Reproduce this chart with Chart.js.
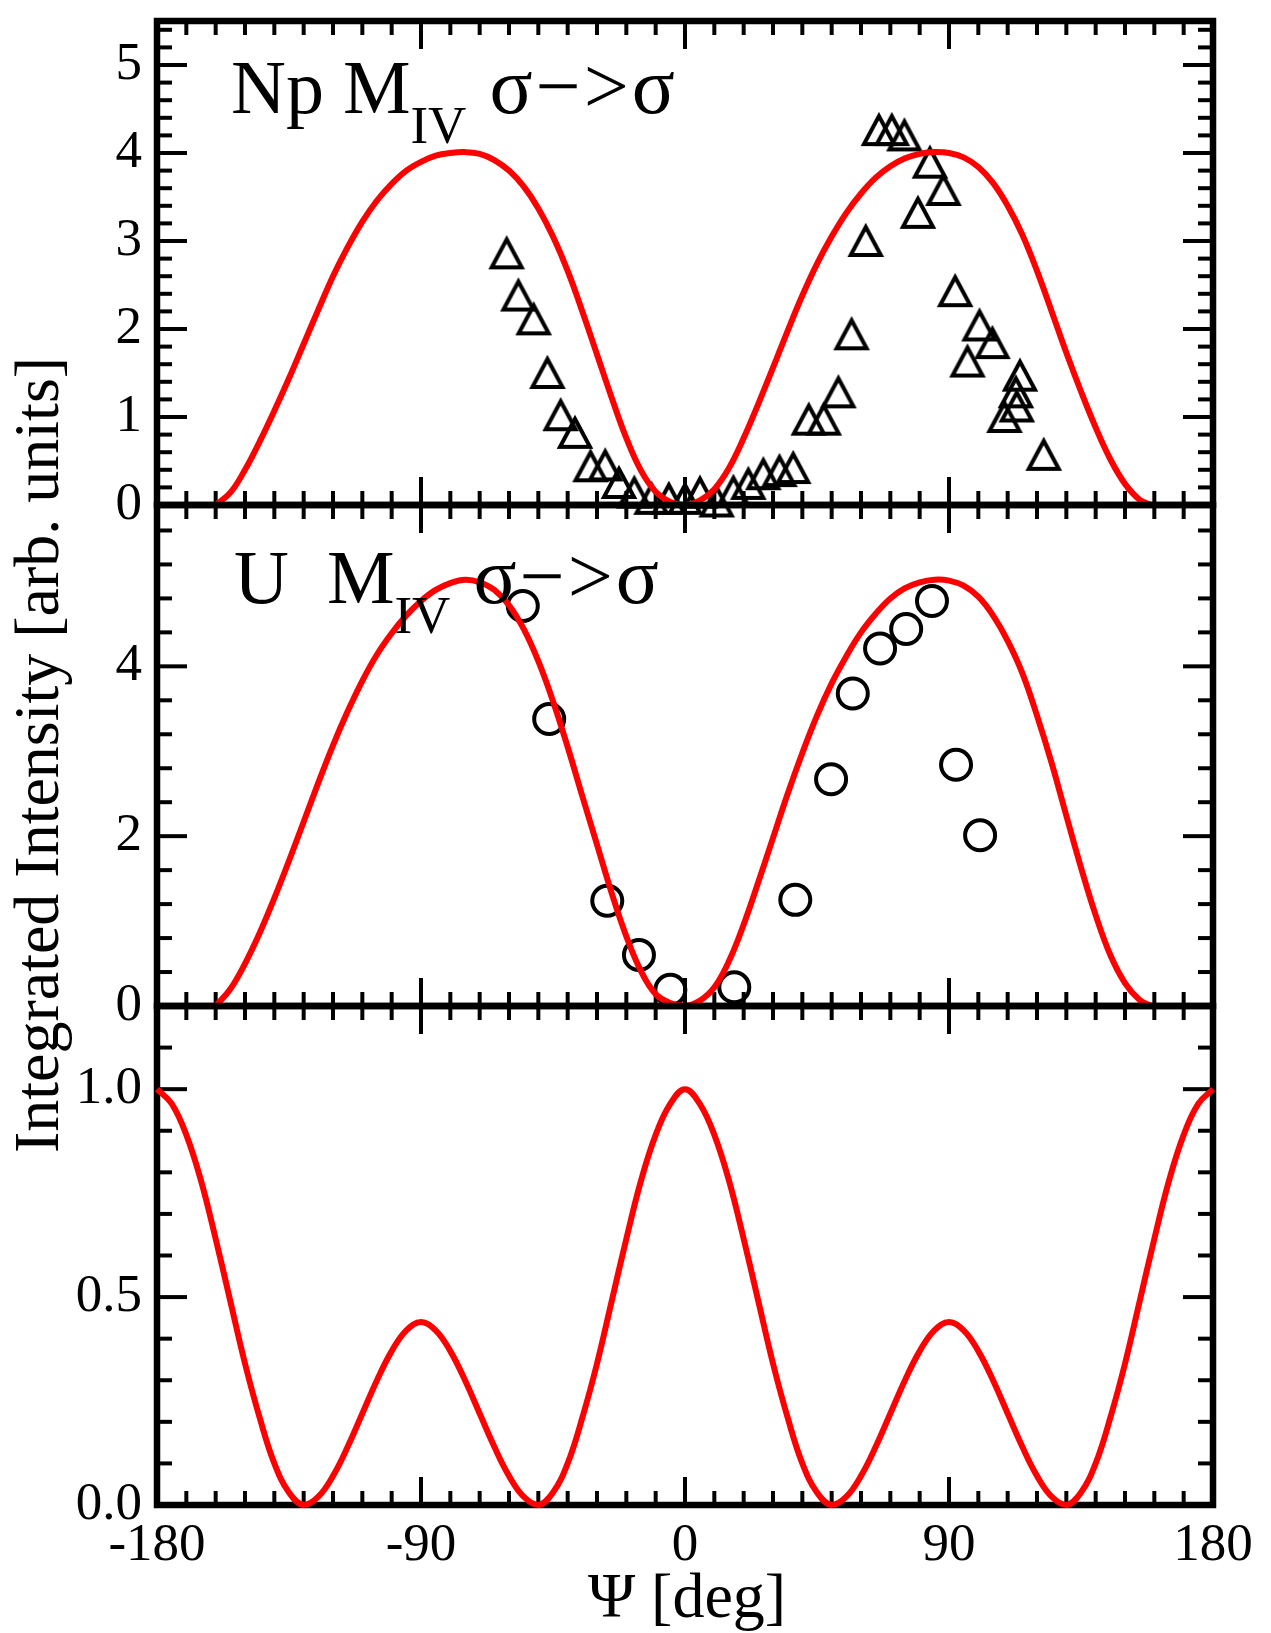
<!DOCTYPE html>
<html>
<head>
<meta charset="utf-8">
<title>Integrated intensity vs Psi</title>
<script src="https://cdn.jsdelivr.net/npm/chart.js@4.4.1/dist/chart.umd.min.js"></script>
<style>
  html, body { margin:0; padding:0; background:#fff; }
  #wrap { position:relative; width:1271px; height:1633px; overflow:hidden; background:#fff; }
  #wrap canvas { position:absolute; left:0; top:0; }
  .txt { position:absolute; white-space:pre; font-family:"Liberation Serif","Times New Roman",serif; color:#000; }
  .ann { font-size:76px; line-height:76px; }
  .sub { font-size:53px; position:relative; top:30px; }
  .sig { font-size:80px; letter-spacing:3px; margin-left:4px; }
  #ytitle { font-size:64px; line-height:64px; width:1000px; height:64px; text-align:center;
            left:-463px; top:723px; transform:rotate(-90deg); transform-origin:50% 50%; }
  #xtitle { font-size:64px; line-height:64px; width:400px; text-align:center; left:487px; top:1564px; }
</style>
</head>
<body>
<div id="wrap">
  <canvas id="cTop" width="1271" height="1633"></canvas>
  <canvas id="cMid" width="1271" height="1633"></canvas>
  <canvas id="cBot" width="1271" height="1633"></canvas>
  <div class="txt ann" style="left:231px; top:48px;">Np M<span class="sub">IV</span> <span class="sig">σ−&gt;σ</span></div>
  <div class="txt ann" style="left:234px; top:538px;">U  M<span class="sub">IV</span> <span class="sig">σ−&gt;σ</span></div>
  <div class="txt" id="ytitle">Integrated Intensity [arb. units]</div>
  <div class="txt" id="xtitle">Ψ [deg]</div>
</div>
<script>
// ---------- tick labels ----------
const psiTicks = [-180, -90, 0, 90, 180];
const npTicks = [0, 1, 2, 3, 4, 5];
const uTicks = [0, 2, 4];
const calcTicks = [0, 0.5, 1.0];
const calcTickLabels = ['0.0', '0.5', '1.0'];

// ---------- Np M_IV sigma->sigma : measured (triangles) ----------
const npPsi = [-60.8, -56.8, -51.6, -46.9, -42.4, -37.5, -32.2, -27.2, -22.5, -17.3, -11.4, -5.5, 0.0, 5.1, 10.8,
               16.5, 21.6, 26.7, 32.2, 36.9, 42.2, 47.3, 52.3, 56.8, 61.6, 66.1, 70.5, 74.8, 79.4, 83.5,
               88.1, 92.1, 96.3, 100.4, 104.8, 108.9, 112.8, 113.1, 114.2, 122.3];
const npInt = [2.86, 2.38, 2.11, 1.50, 1.02, 0.82, 0.44, 0.45, 0.25, 0.14, 0.07, 0.07, 0.07, 0.14, 0.04,
               0.15, 0.24, 0.35, 0.385, 0.42, 0.97, 0.97, 1.28, 1.94, 3.00, 4.26, 4.26, 4.20, 3.32, 3.89,
               3.58, 2.43, 1.63, 2.04, 1.84, 1.00, 1.28, 1.12, 1.47, 0.57];

// ---------- Np calculated curve ----------
const npCurvePsi = [-160, -155, -150, -145, -140, -135, -130, -125, -120, -115, -110, -105, -100, -95, -90, -85, -80, -75,
                    -70, -65, -60, -55, -50, -45, -40, -35, -30, -25, -20, -15, -10, -5, 0,
                    5, 10, 15, 20, 25, 30, 35, 40, 45, 50, 55, 60, 65, 70, 75, 80, 85, 90,
                    95, 100, 105, 110, 115, 120, 125, 130, 135, 140, 145, 150, 155, 159];
const npCurveInt = [0.00, 0.14, 0.40, 0.72, 1.07, 1.44, 1.83, 2.22, 2.60, 2.93, 3.22, 3.46, 3.65, 3.80, 3.90, 3.97, 4.00, 4.01,
                    3.99, 3.92, 3.80, 3.62, 3.37, 3.05, 2.66, 2.20, 1.71, 1.22, 0.76, 0.39, 0.15, 0.035, 0.00,
                    0.05, 0.18, 0.42, 0.76, 1.15, 1.56, 1.98, 2.38, 2.74, 3.05, 3.32, 3.54, 3.72, 3.85, 3.94, 3.99, 4.01, 4.00,
                    3.95, 3.84, 3.66, 3.40, 3.07, 2.66, 2.20, 1.73, 1.29, 0.88, 0.52, 0.24, 0.06, 0.00];

// ---------- U M_IV sigma->sigma : measured (circles) ----------
const uPsi = [-55.3, -46.3, -26.5, -15.7, -5.0, 16.8, 37.6, 49.8, 57.2, 66.5, 75.4, 84.2, 92.4, 100.6];
const uInt = [4.71, 3.38, 1.24, 0.60, 0.19, 0.22, 1.25, 2.67, 3.68, 4.21, 4.44, 4.77, 2.84, 2.01];

// ---------- U calculated curve ----------
const uCurvePsi = npCurvePsi;
const uCurveInt = [0.00, 0.20, 0.50, 0.86, 1.27, 1.71, 2.17, 2.63, 3.07, 3.47, 3.83, 4.14, 4.39, 4.60, 4.77, 4.90, 4.98, 5.02,
                   4.99, 4.90, 4.72, 4.44, 4.06, 3.59, 3.05, 2.47, 1.90, 1.33, 0.82, 0.41, 0.14, 0.035, 0.00,
                   0.06, 0.22, 0.53, 0.96, 1.46, 1.98, 2.50, 2.98, 3.42, 3.80, 4.12, 4.40, 4.62, 4.80, 4.92, 4.99, 5.02, 5.01,
                   4.95, 4.82, 4.60, 4.30, 3.92, 3.42, 2.86, 2.24, 1.63, 1.07, 0.60, 0.27, 0.07, 0.00];

// ---------- bottom panel calculated curve ----------
const calcPsi = [-180, -175, -170, -165, -160, -155, -150, -145, -140, -135, -130, -125, -120, -115, -110, -105, -100, -95,
                 -90, -85, -80, -75, -70, -65, -60, -55, -50, -45, -40, -35, -30, -25, -20, -15, -10, -5,
                 0, 5, 10, 15, 20, 25, 30, 35, 40, 45, 50, 55, 60, 65, 70, 75, 80, 85,
                 90, 95, 100, 105, 110, 115, 120, 125, 130, 135, 140, 145, 150, 155, 160, 165, 170, 175, 180];
const calcInt = [1.00, 0.965, 0.89, 0.78, 0.64, 0.49, 0.34, 0.21, 0.10, 0.03, 0.00, 0.02, 0.07, 0.14, 0.22, 0.30, 0.37, 0.42,
                 0.44, 0.42, 0.37, 0.30, 0.22, 0.14, 0.07, 0.02, 0.00, 0.03, 0.10, 0.21, 0.34, 0.49, 0.64, 0.78, 0.89, 0.965,
                 1.00, 0.965, 0.89, 0.78, 0.64, 0.49, 0.34, 0.21, 0.10, 0.03, 0.00, 0.02, 0.07, 0.14, 0.22, 0.30, 0.37, 0.42,
                 0.44, 0.42, 0.37, 0.30, 0.22, 0.14, 0.07, 0.02, 0.00, 0.03, 0.10, 0.21, 0.34, 0.49, 0.64, 0.78, 0.89, 0.965, 1.00];

// ---------- helpers ----------
const zip = (xs, ys) => xs.map((x, i) => ({x: x, y: ys[i]}));
const FONT = '"Liberation Serif", "Times New Roman", serif';

// open triangle symbol (grace style, centred on its bounding box)
function makeTriangle() {
  const c = document.createElement('canvas');
  c.width = 42; c.height = 42;
  const g = c.getContext('2d');
  g.strokeStyle = '#000';
  g.lineWidth = 4;
  g.lineJoin = 'miter';
  g.beginPath();
  g.moveTo(21, 7);
  g.lineTo(36, 35);
  g.lineTo(6, 35);
  g.closePath();
  g.stroke();
  return c;
}
const triSym = makeTriangle();

// frame + inward ticks on all four sides
const frameTicks = {
  id: 'frameTicks',
  beforeDatasetsDraw(chart, args, o) {
    const {ctx, chartArea: a} = chart;
    const xs = chart.scales.x, ys = chart.scales.y;
    const line = (x1, y1, x2, y2) => { ctx.beginPath(); ctx.moveTo(x1, y1); ctx.lineTo(x2, y2); ctx.stroke(); };
    ctx.save();
    ctx.strokeStyle = '#000';
    ctx.lineCap = 'butt';
    ctx.lineWidth = 4;
    for (let k = -18; k <= 18; k++) {
      const v = k * 10;
      const px = xs.getPixelForValue(v);
      const len = (k % 9 === 0) ? 28 : 14;
      line(px, a.bottom, px, a.bottom - len);
      line(px, a.top, px, a.top + len);
    }
    const n = Math.floor(o.max / o.minor + 1e-6);
    for (let k = 0; k <= n; k++) {
      const v = k * o.minor;
      const py = ys.getPixelForValue(v);
      const ratio = v / o.major;
      const len = Math.abs(ratio - Math.round(ratio)) < 1e-6 ? 30 : 15;
      line(a.left, py, a.left + len, py);
      line(a.right, py, a.right - len, py);
    }
    ctx.lineWidth = 6.5;
    ctx.strokeRect(a.left, a.top, a.right - a.left, a.bottom - a.top);
    ctx.restore();
  }
};

function panel(id, cfg) {
  return new Chart(document.getElementById(id), {
    type: 'scatter',
    data: {datasets: cfg.datasets},
    options: {
      responsive: false,
      animation: false,
      events: [],
      layout: {padding: {top: cfg.top, bottom: cfg.bottomPad, left: 0, right: 58}},
      plugins: {
        legend: {display: false},
        tooltip: {enabled: false},
        frameTicks: {max: cfg.ymax, major: cfg.major, minor: cfg.minor}
      },
      scales: {
        x: {
          type: 'linear', min: -180, max: 180,
          grid: {display: false, drawTicks: false},
          border: {display: false},
          afterBuildTicks: s => { s.ticks = psiTicks.map(v => ({value: v})); },
          afterFit: s => { s.height = cfg.xHeight; s.paddingLeft = 0; s.paddingRight = 0; },
          ticks: {display: cfg.showX, color: '#000', padding: 9, maxRotation: 0, autoSkip: false,
                  font: {family: FONT, size: 53}, callback: v => String(v)}
        },
        y: {
          type: 'linear', min: 0, max: cfg.ymax,
          grid: {display: false, drawTicks: false},
          border: {display: false},
          afterBuildTicks: s => { s.ticks = cfg.yticks.map(v => ({value: v})); },
          afterFit: s => { s.width = 157; s.paddingTop = 0; s.paddingBottom = 0; },
          ticks: {color: '#000', padding: 15, autoSkip: false,
                  font: {family: FONT, size: 53},
                  callback: (v) => { const i = cfg.yticks.indexOf(v); return cfg.ylabels ? cfg.ylabels[i] : String(v); }}
        }
      }
    },
    plugins: [frameTicks]
  });
}

const curveStyle = {showLine: true, borderColor: '#ff0000', borderWidth: 6, pointRadius: 0,
                    tension: 0.4, clip: false};

panel('cTop', {
  top: 6, bottomPad: 1633 - 505, xHeight: 0, showX: false,
  ymax: 5.5, major: 1, minor: 0.2, yticks: npTicks,
  datasets: [
    Object.assign({data: zip(npCurvePsi, npCurveInt)}, curveStyle),
    {data: zip(npPsi, npInt), pointStyle: triSym, pointRadius: 20, showLine: false, clip: false}
  ]
});

panel('cMid', {
  top: 505, bottomPad: 1633 - 1006, xHeight: 0, showX: false,
  ymax: 5.9, major: 2, minor: 0.4, yticks: uTicks,
  datasets: [
    Object.assign({data: zip(uCurvePsi, uCurveInt)}, curveStyle),
    {data: zip(uPsi, uInt), pointStyle: 'circle', pointRadius: 15, borderWidth: 4, borderColor: '#000',
     backgroundColor: 'rgba(0,0,0,0)', showLine: false, clip: false}
  ]
});

panel('cBot', {
  top: 1006, bottomPad: 0, xHeight: 128, showX: true,
  ymax: 1.2, major: 0.5, minor: 0.1, yticks: calcTicks, ylabels: calcTickLabels,
  datasets: [
    Object.assign({data: zip(calcPsi, calcInt)}, curveStyle)
  ]
});
</script>
</body>
</html>
